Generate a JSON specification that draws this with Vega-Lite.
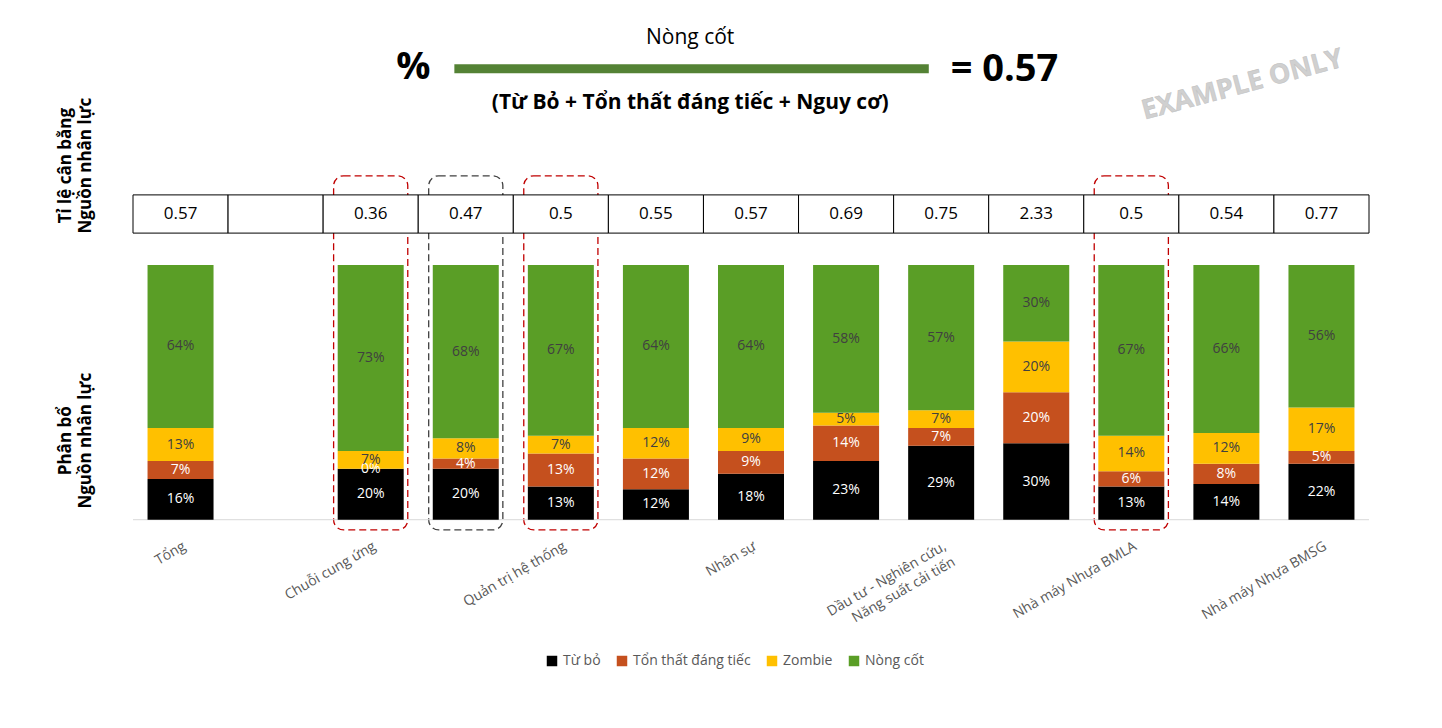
{
  "$schema": "https://vega.github.io/schema/vega-lite/v6.json",
  "width": 1246,
  "height": 535,
  "autosize": {"type": "none"},
  "padding": {"left": 128, "top": 0, "right": 68, "bottom": 193},
  "background": "white",
  "config": {"font": "Open Sans", "view": {"stroke": null}},
  "datasets": {
    "bars": [
      {"i":0,"s":"Từ bỏ","k":0,"v":16},{"i":0,"s":"Tổn thất đáng tiếc","k":1,"v":7},{"i":0,"s":"Zombie","k":2,"v":13},{"i":0,"s":"Nòng cốt","k":3,"v":64},
      {"i":2,"s":"Từ bỏ","k":0,"v":20},{"i":2,"s":"Tổn thất đáng tiếc","k":1,"v":0},{"i":2,"s":"Zombie","k":2,"v":7},{"i":2,"s":"Nòng cốt","k":3,"v":73},
      {"i":3,"s":"Từ bỏ","k":0,"v":20},{"i":3,"s":"Tổn thất đáng tiếc","k":1,"v":4},{"i":3,"s":"Zombie","k":2,"v":8},{"i":3,"s":"Nòng cốt","k":3,"v":68},
      {"i":4,"s":"Từ bỏ","k":0,"v":13},{"i":4,"s":"Tổn thất đáng tiếc","k":1,"v":13},{"i":4,"s":"Zombie","k":2,"v":7},{"i":4,"s":"Nòng cốt","k":3,"v":67},
      {"i":5,"s":"Từ bỏ","k":0,"v":12},{"i":5,"s":"Tổn thất đáng tiếc","k":1,"v":12},{"i":5,"s":"Zombie","k":2,"v":12},{"i":5,"s":"Nòng cốt","k":3,"v":64},
      {"i":6,"s":"Từ bỏ","k":0,"v":18},{"i":6,"s":"Tổn thất đáng tiếc","k":1,"v":9},{"i":6,"s":"Zombie","k":2,"v":9},{"i":6,"s":"Nòng cốt","k":3,"v":64},
      {"i":7,"s":"Từ bỏ","k":0,"v":23},{"i":7,"s":"Tổn thất đáng tiếc","k":1,"v":14},{"i":7,"s":"Zombie","k":2,"v":5},{"i":7,"s":"Nòng cốt","k":3,"v":58},
      {"i":8,"s":"Từ bỏ","k":0,"v":29},{"i":8,"s":"Tổn thất đáng tiếc","k":1,"v":7},{"i":8,"s":"Zombie","k":2,"v":7},{"i":8,"s":"Nòng cốt","k":3,"v":57},
      {"i":9,"s":"Từ bỏ","k":0,"v":30},{"i":9,"s":"Tổn thất đáng tiếc","k":1,"v":20},{"i":9,"s":"Zombie","k":2,"v":20},{"i":9,"s":"Nòng cốt","k":3,"v":30},
      {"i":10,"s":"Từ bỏ","k":0,"v":13},{"i":10,"s":"Tổn thất đáng tiếc","k":1,"v":6},{"i":10,"s":"Zombie","k":2,"v":14},{"i":10,"s":"Nòng cốt","k":3,"v":67},
      {"i":11,"s":"Từ bỏ","k":0,"v":14},{"i":11,"s":"Tổn thất đáng tiếc","k":1,"v":8},{"i":11,"s":"Zombie","k":2,"v":12},{"i":11,"s":"Nòng cốt","k":3,"v":66},
      {"i":12,"s":"Từ bỏ","k":0,"v":22},{"i":12,"s":"Tổn thất đáng tiếc","k":1,"v":5},{"i":12,"s":"Zombie","k":2,"v":17},{"i":12,"s":"Nòng cốt","k":3,"v":56}
    ],
    "table": [
      {"i":0,"r":"0.57"},{"i":1,"r":""},{"i":2,"r":"0.36"},{"i":3,"r":"0.47"},{"i":4,"r":"0.5"},{"i":5,"r":"0.55"},{"i":6,"r":"0.57"},
      {"i":7,"r":"0.69"},{"i":8,"r":"0.75"},{"i":9,"r":"2.33"},{"i":10,"r":"0.5"},{"i":11,"r":"0.54"},{"i":12,"r":"0.77"}
    ],
    "boxes": [
      {"i":2,"c":"red"},{"i":3,"c":"dark"},{"i":4,"c":"red"},{"i":10,"c":"red"}
    ]
  },
  "layer": [
    {
      "data": {"name": "boxes"},
      "transform": [{"calculate": "datum.i-0.39", "as": "a"}, {"calculate": "datum.i+0.39", "as": "b"}],
      "mark": {"type": "rect", "fill": null, "strokeWidth": 1.3, "strokeDash": [7, 4], "cornerRadius": 10},
      "encoding": {
        "x": {"field": "a", "type": "quantitative", "scale": {"domain": [-0.5, 12.5], "nice": false, "zero": false},
          "axis": {"values": [0,1,2,3,4,5,6,7,8,9,10,11,12], "title": null, "grid": false, "ticks": false, "domain": false,
            "labelAngle": -30, "labelAlign": "right", "labelBaseline": "top", "labelFontSize": 14, "labelColor": "#595959", "labelPadding": 4, "labelLineHeight": 18,
            "labelExpr": "datum.value==8 ? ['Dầu tư - Nghiên cứu,','Năng suất cải tiến'] : ['Tổng','','Chuỗi cung ứng','Hành chính','Quản trị hệ thống','Tài chính kế toán','Nhân sự','Kinh doanh - Tiếp thị','','Hệ thống thông tin','Nhà máy Nhựa BMLA','Nhà máy Nhựa BMBD','Nhà máy Nhựa BMSG'][datum.value]"}},
        "x2": {"field": "b"},
        "y": {"datum": -4, "type": "quantitative", "scale": {"domain": [-6, 204], "nice": false, "zero": false}, "axis": null},
        "y2": {"datum": 135},
        "stroke": {"field": "c", "type": "nominal", "scale": {"domain": ["red", "dark"], "range": ["#c00000", "#404040"]}, "legend": null}
      }
    },
    {
      "data": {"values": [{"a": -0.5, "b": 12.5}]},
      "mark": {"type": "rule", "color": "#d9d9d9", "strokeWidth": 1},
      "encoding": {"x": {"field": "a", "type": "quantitative"}, "x2": {"field": "b"}, "y": {"datum": 0, "type": "quantitative"}}
    },
    {
      "data": {"name": "table"},
      "transform": [{"calculate": "datum.i-0.5", "as": "a"}, {"calculate": "datum.i+0.5", "as": "b"}],
      "mark": {"type": "rect", "fill": "white", "stroke": "#000", "strokeWidth": 1},
      "encoding": {
        "x": {"field": "a", "type": "quantitative"}, "x2": {"field": "b"},
        "y": {"datum": 112.5, "type": "quantitative"}, "y2": {"datum": 127.5}
      }
    },
    {
      "data": {"name": "table"},
      "mark": {"type": "text", "fontSize": 17, "color": "#000"},
      "encoding": {"x": {"field": "i", "type": "quantitative"}, "y": {"datum": 120, "type": "quantitative"}, "text": {"field": "r"}}
    },
    {
      "data": {"name": "bars"},
      "transform": [
        {"stack": "v", "groupby": ["i"], "sort": [{"field": "k"}], "as": ["y0", "y1"]},
        {"calculate": "(datum.y0+datum.y1)/2", "as": "m"},
        {"calculate": "datum.v + '%'", "as": "lab"}
      ],
      "layer": [
        {
          "mark": {"type": "bar", "width": 66},
          "encoding": {
            "x": {"field": "i", "type": "quantitative"},
            "y": {"field": "y0", "type": "quantitative"}, "y2": {"field": "y1"},
            "color": {"field": "s", "type": "nominal",
              "scale": {"domain": ["Từ bỏ", "Tổn thất đáng tiếc", "Zombie", "Nòng cốt"], "range": ["#000000", "#c5501e", "#ffc000", "#5a9e26"]},
              "legend": {"title": null, "orient": "none", "direction": "horizontal", "legendX": 417, "legendY": 654,
                "symbolType": "square", "symbolSize": 110, "labelFontSize": 14, "labelColor": "#595959", "columnPadding": 14, "symbolStrokeWidth": 0}}
          }
        },
        {
          "mark": {"type": "text", "fontSize": 14},
          "encoding": {
            "x": {"field": "i", "type": "quantitative"},
            "y": {"field": "m", "type": "quantitative"},
            "text": {"field": "lab"},
            "color": {"condition": {"test": "datum.k>=2", "value": "#404040"}, "value": "white"}
          }
        }
      ]
    },
    {
      "data": {"values": [{"a": 2.88, "b": 7.87}]},
      "mark": {"type": "rule", "color": "#548235", "strokeWidth": 9},
      "encoding": {"x": {"field": "a", "type": "quantitative"}, "x2": {"field": "b"}, "y": {"datum": 177, "type": "quantitative"}}
    },
    {
      "data": {"values": [{"x": 5.36, "y": 189, "t": "Nòng cốt"}]},
      "mark": {"type": "text", "fontSize": 21, "color": "#000"},
      "encoding": {"x": {"field": "x", "type": "quantitative"}, "y": {"field": "y", "type": "quantitative"}, "text": {"field": "t"}}
    },
    {
      "data": {"values": [{"x": 5.36, "y": 163.5, "t": "(Từ Bỏ + Tổn thất đáng tiếc + Nguy cơ)"}]},
      "mark": {"type": "text", "fontSize": 21, "fontWeight": "bold", "color": "#000"},
      "encoding": {"x": {"field": "x", "type": "quantitative"}, "y": {"field": "y", "type": "quantitative"}, "text": {"field": "t"}}
    },
    {
      "data": {"values": [{"x": 2.45, "y": 177.5, "t": "%"}]},
      "mark": {"type": "text", "fontSize": 38, "fontWeight": "bold", "color": "#000"},
      "encoding": {"x": {"field": "x", "type": "quantitative"}, "y": {"field": "y", "type": "quantitative"}, "text": {"field": "t"}}
    },
    {
      "data": {"values": [{"x": 8.1, "y": 176.5, "t": "= 0.57"}]},
      "mark": {"type": "text", "fontSize": 38, "fontWeight": "bold", "color": "#000", "align": "left"},
      "encoding": {"x": {"field": "x", "type": "quantitative"}, "y": {"field": "y", "type": "quantitative"}, "text": {"field": "t"}}
    },
    {
      "data": {"values": [{"x": 11.17, "y": 170.6, "t": "EXAMPLE ONLY"}]},
      "mark": {"type": "text", "fontSize": 27, "fontWeight": "bold", "color": "#d0d0d0", "angle": 345, "stroke": "#bfbfbf", "strokeWidth": 0.5},
      "encoding": {"x": {"field": "x", "type": "quantitative"}, "y": {"field": "y", "type": "quantitative"}, "text": {"field": "t"}}
    },
    {
      "data": {"values": [
        {"x": -1.2, "y": 139, "t": "Tỉ lệ cân bằng\nNguồn nhân lực"},
        {"x": -1.2, "y": 31, "t": "Phân bổ\nNguồn nhân lực"}
      ]},
      "mark": {"type": "text", "fontSize": 17, "fontWeight": "bold", "color": "#000", "angle": 270, "lineBreak": "\n", "lineHeight": 20},
      "encoding": {"x": {"field": "x", "type": "quantitative"}, "y": {"field": "y", "type": "quantitative"}, "text": {"field": "t"}}
    }
  ]
}
